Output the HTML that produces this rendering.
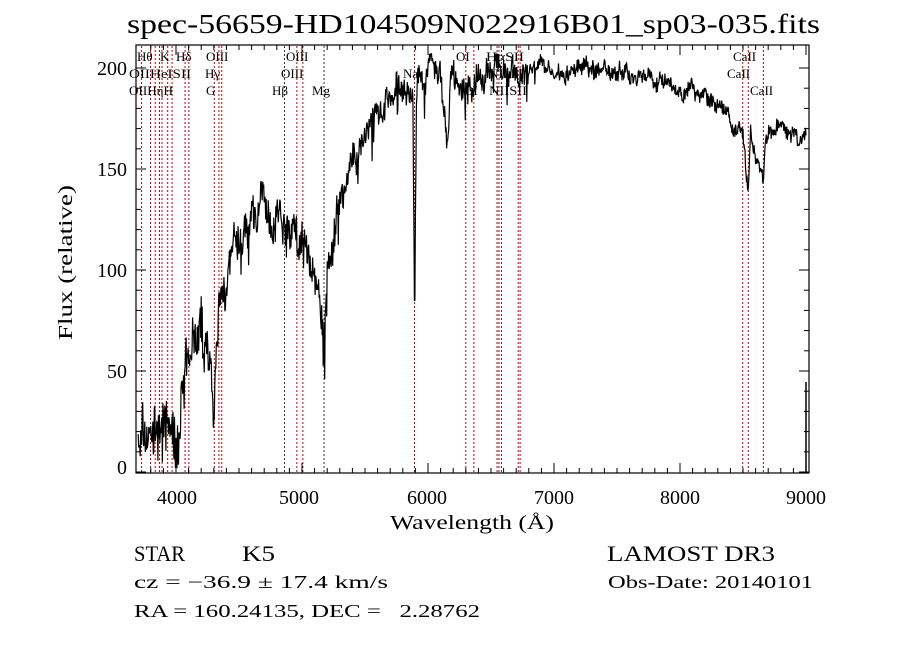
<!DOCTYPE html>
<html><head><meta charset="utf-8"><style>
html,body{margin:0;padding:0;background:#fff;}
svg{display:block;}
text{font-family:"Liberation Serif",serif;fill:#000;}
</style></head><body>
<svg id="s" width="900" height="649" viewBox="0 0 900 649" xmlns="http://www.w3.org/2000/svg">
<rect width="900" height="649" fill="#fff"/>
<text x="127" y="33" font-size="27" textLength="693" lengthAdjust="spacingAndGlyphs">spec-56659-HD104509N022916B01_sp03-035.fits</text>
<g id="lines"></g>
<polyline id="spec" fill="none" stroke="#000" stroke-width="1.2"/>
<line x1="806" y1="382" x2="806" y2="472" stroke="#000" stroke-width="1.5"/>
<rect x="136" y="45" width="673" height="428" fill="none" stroke="#000" stroke-width="1.2"/>
<g id="ticks" stroke="#000" stroke-width="1"></g>
<g font-size="20">
<text x="157" y="504" textLength="40" lengthAdjust="spacingAndGlyphs">4000</text><text x="279" y="504" textLength="40" lengthAdjust="spacingAndGlyphs">5000</text><text x="407" y="504" textLength="40" lengthAdjust="spacingAndGlyphs">6000</text>
<text x="534" y="504" textLength="40" lengthAdjust="spacingAndGlyphs">7000</text><text x="660" y="504" textLength="40" lengthAdjust="spacingAndGlyphs">8000</text><text x="786" y="504" textLength="40" lengthAdjust="spacingAndGlyphs">9000</text>
<text x="117" y="474">0</text><text x="107" y="378" textLength="20" lengthAdjust="spacingAndGlyphs">50</text><text x="97" y="277" textLength="30" lengthAdjust="spacingAndGlyphs">100</text>
<text x="97" y="176" textLength="30" lengthAdjust="spacingAndGlyphs">150</text><text x="97" y="75" textLength="30" lengthAdjust="spacingAndGlyphs">200</text>
</g>
<text x="390" y="529" font-size="20" textLength="164" lengthAdjust="spacingAndGlyphs">Wavelength (Å)</text>
<text transform="translate(72,340) rotate(-90)" font-size="20" textLength="155" lengthAdjust="spacingAndGlyphs">Flux (relative)</text>
<g font-size="13">
<text x="137" y="61">Hθ</text><text x="160" y="61">K</text><text x="176" y="61">Hδ</text><text x="206" y="61">OIII</text><text x="286" y="61">OIII</text>
<text x="129" y="78" textLength="62" lengthAdjust="spacingAndGlyphs">OIIHeISII</text><text x="205" y="78">Hγ</text><text x="281" y="78">OIII</text>
<text x="129" y="95" textLength="44" lengthAdjust="spacingAndGlyphs">OIIHηH</text><text x="206" y="95">G</text><text x="272" y="95">Hβ</text><text x="312" y="95">Mg</text>
<text x="456" y="61">OI</text><text x="486" y="61" textLength="38" lengthAdjust="spacingAndGlyphs">HαSII</text><text x="733" y="61">CaII</text>
<text x="403" y="78">Na</text><text x="489" y="78" textLength="34" lengthAdjust="spacingAndGlyphs">NII LI</text><text x="727" y="78">CaII</text>
<text x="464" y="95">OI</text><text x="489" y="95" textLength="38" lengthAdjust="spacingAndGlyphs">NIISII</text><text x="750" y="95">CaII</text>
</g>
<g font-size="22">
<text x="134" y="561" textLength="51" lengthAdjust="spacingAndGlyphs">STAR</text><text x="242" y="561" textLength="33" lengthAdjust="spacingAndGlyphs">K5</text>
<text x="607" y="561" textLength="168" lengthAdjust="spacingAndGlyphs">LAMOST DR3</text>
</g>
<g font-size="18">
<text x="134" y="588" textLength="254" lengthAdjust="spacingAndGlyphs">cz = −36.9 ± 17.4 km/s</text>
<text x="608" y="588" textLength="205" lengthAdjust="spacingAndGlyphs">Obs-Date: 20140101</text>
<text x="134" y="617" xml:space="preserve" textLength="346" lengthAdjust="spacingAndGlyphs">RA = 160.24135, DEC =   2.28762</text>
</g>
</svg>
<script>
const NS="http://www.w3.org/2000/svg";
const X=w=>176+(w-4000)*0.126, Y=f=>472-f*2.02;
const t=document.getElementById('ticks');
function ln(p,x1,y1,x2,y2,st,col,dash){const l=document.createElementNS(NS,'line');l.setAttribute('x1',x1);l.setAttribute('y1',y1);l.setAttribute('x2',x2);l.setAttribute('y2',y2);if(col)l.setAttribute('stroke',col);if(dash)l.setAttribute('stroke-dasharray',dash);if(st)l.setAttribute('stroke-width',st);p.appendChild(l);}
for(let w=3800;w<=9000;w+=100){const x=X(w),L=w%1000==0?10:5;ln(t,x,473,x,473-L);ln(t,x,45,x,45+L);}
for(let f=0;f<=200;f+=10){const y=Y(f),L=f%50==0?10:5;ln(t,136,y,136+L,y);ln(t,809,y,809-L,y);}
const g=document.getElementById('lines');
[3727,3798,3835,3869,3889,3934,3969,4072,4102,4304,4341,4363,4861,4959,5007,5175,5893,6300,6364,6548,6563,6583,6716,6731,8498,8542,8662].forEach(w=>{const blk=(w==4861||w==5175||w==6563);ln(g,X(w),46,X(w),472,1,blk?'#333':'#c00000','2,2');});
const K=[[3700,15],[3800,20],[3900,22],[4000,22],[4050,40],[4100,55],[4200,60],[4280,55],[4300,30],[4330,70],[4400,95],[4500,110],[4600,125],[4700,133],[4800,128],[4880,118],[4950,118],[5000,108],[5100,95],[5160,80],[5175,65],[5200,100],[5300,128],[5400,150],[5500,168],[5600,180],[5700,185],[5800,190],[5880,180],[5893,85],[5910,185],[6000,200],[6100,196],[6160,160],[6180,195],[6300,187],[6400,195],[6550,202],[6650,203],[6750,195],[6850,200],[7000,198],[7200,200],[7500,199],[7800,195],[8000,190],[8200,185],[8350,178],[8480,168],[8500,168],[8542,140],[8560,165],[8662,145],[8680,168],[8800,172],[8900,170],[8950,162],[9000,165]];
function base(w){for(let i=0;i<K.length-1;i++){if(w>=K[i][0]&&w<=K[i+1][0]){const a=K[i],b=K[i+1],u=(w-a[0])/(b[0]-a[0]);return a[1]+u*(b[1]-a[1]);}}return 165;}
let seed=7;const r=()=>{seed=(seed*16807)%2147483647;return seed/2147483647-0.5;};
let pts=[];let slow=0;
for(let w=3700;w<=9000;w+=4){let f=base(w);const amp=w<4400?22:(w<5300?18:(w<6800?12:7));slow=0.85*slow+r()*amp*0.5;f+=slow+r()*amp;if(r()>0.47&&w<6900)f-=amp*1.2;if(Math.abs(w-5893)<4)f=base(5893);pts.push(X(w).toFixed(1)+','+Y(Math.max(Math.min(f,207),2)).toFixed(1));}
document.getElementById('spec').setAttribute('points',pts.join(' '));
</script>
</body></html>
